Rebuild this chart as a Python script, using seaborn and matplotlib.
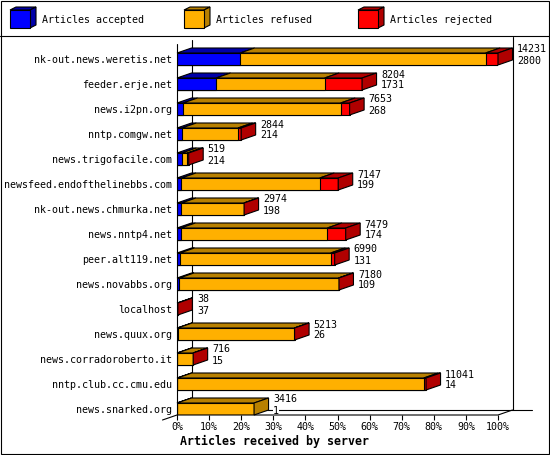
import matplotlib
matplotlib.use('Agg')
import matplotlib.pyplot as plt
from matplotlib.patches import Polygon, Rectangle
import seaborn as sns
import numpy as np
import pandas as pd

SERVERS = ['nk-out.news.weretis.net', 'feeder.erje.net', 'news.i2pn.org',
           'nntp.comgw.net', 'news.trigofacile.com', 'newsfeed.endofthelinebbs.com',
           'nk-out.news.chmurka.net', 'news.nntp4.net', 'peer.alt119.net',
           'news.novabbs.org', 'localhost', 'news.quux.org',
           'news.corradoroberto.it', 'nntp.club.cc.cmu.edu', 'news.snarked.org']
OFFERED = [14231, 8204, 7653, 2844, 519, 7147, 2974, 7479, 6990, 7180, 38, 5213, 716, 11041, 3416]
ACCEPTED = [2800, 1731, 268, 214, 214, 199, 198, 174, 131, 109, 37, 26, 15, 14, 1]
REJECTED = [550, 1660, 400, 140, 60, 820, 6, 815, 175, 20, 1, 8, 4, 100, 0]
LEGEND_LABELS = ['Articles accepted', 'Articles refused', 'Articles rejected']
X_TICKS = list(range(0, 101, 10))
TITLE = 'Articles received by server'

FRONT = ['#0000ff', '#ffb000', '#ff0000']
SHADE = ['#0000a8', '#b88000', '#b00000']

W, H = 550, 455
LW = 0.8

sns.set_style('white')
plt.rcParams['font.family'] = ['DejaVu Sans Mono']
plt.rcParams['text.color'] = 'black'
plt.rcParams['xtick.color'] = 'black'
plt.rcParams['ytick.color'] = 'black'
plt.rcParams['axes.labelcolor'] = 'black'

# build the table, bars are % of the biggest feed
scale = max(OFFERED)
df = pd.DataFrame({'server': SERVERS, 'offered': OFFERED,
                   'accepted': ACCEPTED, 'rejected': REJECTED})
df['refused'] = df['offered'] - df['accepted'] - df['rejected']
df['acc_pct'] = df['accepted'] / scale * 100
df['accref_pct'] = (df['accepted'] + df['refused']) / scale * 100
df['total_pct'] = df['offered'] / scale * 100

fig = plt.figure(figsize=(W / 100, H / 100), dpi=100)
fig.patch.set_facecolor('white')

# main axes: 0% at x=177px, 100% at 498px; rows 25px apart
ax = fig.add_axes([177 / W, (H - 415) / H, 321 / W, 375 / H])
ax.set_zorder(1)
ax.set_facecolor('none')

BAR_H = 0.48
DX = 14.5 / 3.21   # depth in % units
DY = 0.2           # depth in row units

for col, c in [('total_pct', FRONT[2]), ('accref_pct', FRONT[1]), ('acc_pct', FRONT[0])]:
    sns.barplot(data=df, x=col, y='server', color=c, saturation=1, width=BAR_H,
                edgecolor='black', linewidth=LW, ax=ax, zorder=2)

n = len(df)
ylo, yhi = n - 1 + 0.24, -0.76
ax.set_xlim(0, 100)
ax.set_ylim(ylo, yhi)

# 3d faces
for i, row in df.iterrows():
    yt = i - BAR_H / 2
    yb = i + BAR_H / 2
    edges = [0, row['acc_pct'], row['accref_pct'], row['total_pct']]
    counts = [row['accepted'], row['refused'], row['rejected']]
    last = None
    for k in range(3):
        xa, xb = edges[k], edges[k + 1]
        if counts[k] <= 0:
            continue
        last = k
        ax.add_patch(Polygon([(xa, yt), (xb, yt), (xb + DX, yt - DY), (xa + DX, yt - DY)],
                             closed=True, fc=SHADE[k], ec='black', lw=LW,
                             zorder=3, clip_on=False))
    xe = edges[3]
    ax.add_patch(Polygon([(xe, yt), (xe + DX, yt - DY), (xe + DX, yb - DY), (xe, yb)],
                         closed=True, fc=SHADE[last], ec='black', lw=LW,
                         zorder=3, clip_on=False))
    tx = xe + DX + 1.4
    for txt, dy in [(row['offered'], -0.38), (row['accepted'], 0.06)]:
        ax.text(tx, i + dy, str(txt), fontsize=7.2, va='center', ha='left',
                clip_on=False, zorder=4,
                bbox=dict(fc='white', ec='none', pad=0.3))

# walls and floor
line = dict(color='black', lw=LW, clip_on=False)
ax.plot([DX, DX], [ylo - DY, yhi], zorder=0.5, **line)
ax.plot([100 + DX, 100 + DX], [ylo - DY, yhi - 0.12], zorder=0.5, **line)
ax.plot([0, 0], [ylo, yhi + 0.16], zorder=5, **line)
ax.plot([-DX, 0, 100, 100 + DX], [ylo + DY, ylo, ylo, ylo - DY], zorder=5, **line)
ax.plot([DX, 110.6], [ylo - DY, ylo - DY], zorder=0.5, **line)

for s in ax.spines.values():
    s.set_visible(False)
ax.set_xticks(X_TICKS, labels=[f'{t}%' for t in X_TICKS])
ax.tick_params(axis='x', length=3.6, width=LW, pad=1.2, labelsize=7.2,
               color='black', bottom=True)
ax.tick_params(axis='y', length=0, pad=3.6, labelsize=7.2)
ax.set_xlabel('')
ax.set_ylabel('')

fig.text(180 / W, 1 - 441 / H, TITLE, fontsize=8.4, fontweight='bold',
         va='center', ha='left')

# frame + legend strip
bg = fig.add_axes([0, 0, 1, 1])
bg.set_zorder(0)
bg.set_xlim(0, W)
bg.set_ylim(H, 0)
bg.axis('off')
bg.add_patch(Rectangle((0.5, 0.5), W - 1.5, H - 1.5, fill=False, ec='black', lw=LW))
bg.plot([0, W], [35.5, 35.5], color='black', lw=LW)
for k, label in enumerate(LEGEND_LABELS):
    x0 = 10 + k * 174
    bg.add_patch(Polygon([(x0, 10), (x0 + 20, 10), (x0 + 26, 7), (x0 + 6, 7)],
                         closed=True, fc=SHADE[k], ec='black', lw=LW))
    bg.add_patch(Polygon([(x0 + 20, 10), (x0 + 26, 7), (x0 + 26, 25), (x0 + 20, 28)],
                         closed=True, fc=SHADE[k], ec='black', lw=LW))
    bg.add_patch(Rectangle((x0, 10), 20, 18, fc=FRONT[k], ec='black', lw=LW))
    bg.text(x0 + 32, 20, label, fontsize=7.2, va='center', ha='left')

fig.savefig('out.png', dpi=100)
